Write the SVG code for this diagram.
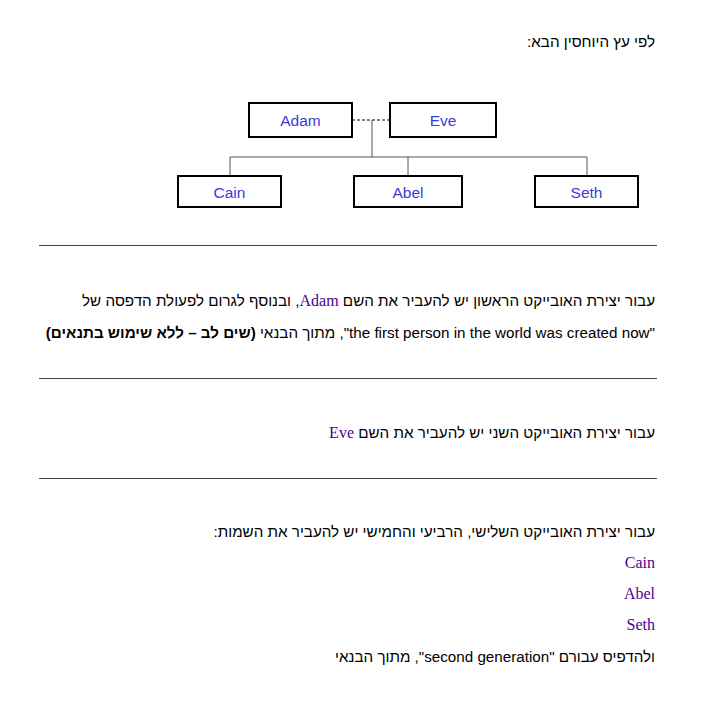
<svg xmlns="http://www.w3.org/2000/svg" width="725" height="711" viewBox="0 0 725 711">
<style>
.box{fill:#fff;stroke:#000;stroke-width:2}
.lbl{font-family:"Liberation Sans",Arial,sans-serif;font-size:15.5px;fill:#3b3bd6;text-anchor:middle}
.con{fill:none;stroke:#555;stroke-width:1}
.dash{fill:none;stroke:#000;stroke-width:1;stroke-dasharray:3,2}
.sep{stroke:#444;stroke-width:1}
.he{font-family:"Liberation Sans",Arial,sans-serif;font-size:15.2px;fill:#000;direction:rtl;text-anchor:start}
.en{font-family:"Liberation Serif","Times New Roman",serif;font-size:16px;fill:#4b0096}
.b{font-weight:bold}
</style>
<rect width="725" height="711" fill="#fff"/>
<text class="he" x="655" y="47">לפי עץ היוחסין הבא:</text>
<g id="connectors">
<line class="dash" x1="352" y1="120" x2="390" y2="120"/>
<polyline class="con" points="372,120 372,157"/>
<polyline class="con" points="230,176 230,157 587,157 587,176"/>
<line class="con" x1="408" y1="157" x2="408" y2="176"/>
</g>
<g id="adam"><rect class="box" x="249" y="103" width="103" height="34"/><text class="lbl" x="300.5" y="125.5">Adam</text></g>
<g id="eve"><rect class="box" x="390" y="103" width="106" height="34"/><text class="lbl" x="443" y="125.5">Eve</text></g>
<g id="cain"><rect class="box" x="178" y="176" width="103" height="31"/><text class="lbl" x="229.5" y="197.5">Cain</text></g>
<g id="abel"><rect class="box" x="354" y="176" width="108" height="31"/><text class="lbl" x="408" y="197.5">Abel</text></g>
<g id="seth"><rect class="box" x="535" y="176" width="103" height="31"/><text class="lbl" x="586.5" y="197.5">Seth</text></g>
<line class="sep" x1="39" y1="245.5" x2="657" y2="245.5"/>
<text class="he" x="655" y="306">עבור יצירת האובייקט הראשון יש להעביר את השם <tspan class="en">Adam</tspan>, ובנוסף לגרום לפעולת הדפסה של</text>
<text class="he" x="655" y="338">"the first person in the world was created now", מתוך הבנאי <tspan class="b">(שים לב – ללא שימוש בתנאים)</tspan></text>
<line class="sep" x1="39" y1="378.5" x2="657" y2="378.5"/>
<text class="he" x="655" y="438">עבור יצירת האובייקט השני יש להעביר את השם <tspan class="en">Eve</tspan></text>
<line class="sep" x1="39" y1="478.5" x2="657" y2="478.5"/>
<text class="he" x="655" y="537">עבור יצירת האובייקט השלישי, הרביעי והחמישי יש להעביר את השמות:</text>
<text class="he en" x="655" y="568">Cain</text>
<text class="he en" x="655" y="599">Abel</text>
<text class="he en" x="655" y="630">Seth</text>
<text class="he" x="655" y="662">ולהדפיס עבורם "second generation", מתוך הבנאי</text>
</svg>
